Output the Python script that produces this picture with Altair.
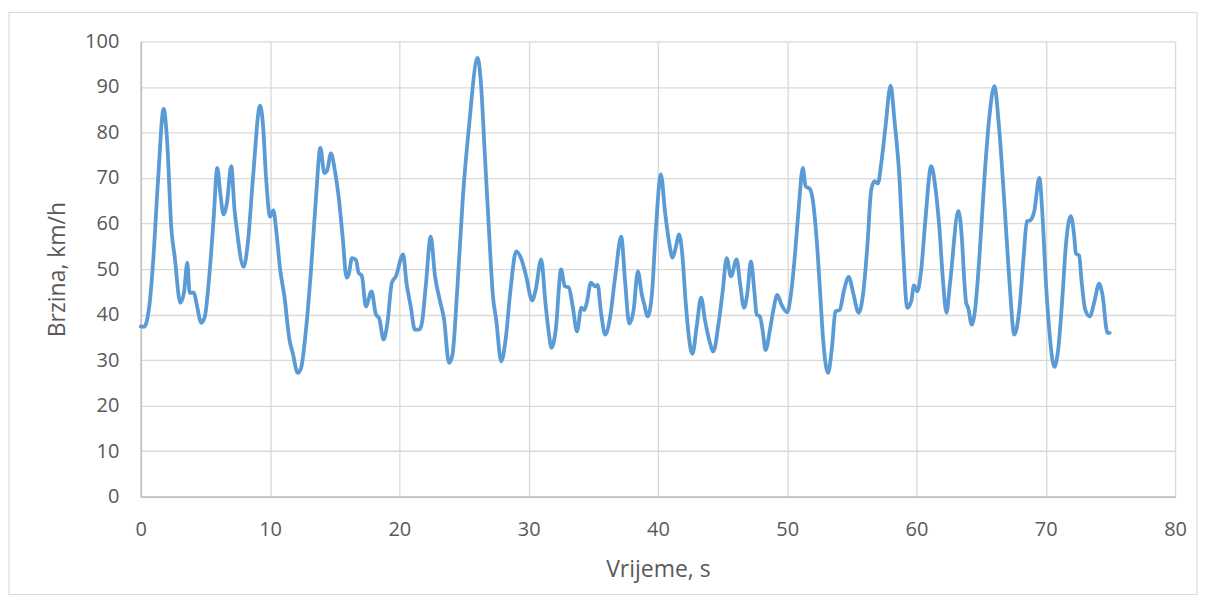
import altair as alt
import pandas as pd

# Time (s) and speed (km/h)
time_s = [
    0.0, 0.25, 0.69, 0.95, 1.34, 1.77, 2.03, 2.37, 2.62, 3.06, 3.34, 3.6, 3.78, 4.11, 4.3,
    4.68, 4.94, 5.32, 5.63, 5.92, 6.15, 6.4, 6.66, 7.0, 7.25, 7.43, 7.95, 8.28, 8.67, 9.23,
    9.44, 9.7, 10.0, 10.26, 10.47, 10.78, 11.11, 11.5, 11.75, 12.14, 12.4, 12.78, 13.17, 13.56,
    13.89, 14.2, 14.4, 14.71, 15.02, 15.3, 15.61, 15.92, 16.1, 16.33, 16.64, 16.85, 17.1,
    17.41, 17.85, 18.19, 18.44, 18.78, 19.08, 19.42, 19.73, 20.29, 20.55, 20.88, 21.2, 21.53,
    21.75, 22.04, 22.43, 22.76, 23.12, 23.46, 23.84, 24.1, 24.48, 24.92, 25.39, 26.06, 26.29,
    26.62, 26.93, 27.24, 27.49, 27.88, 28.22, 28.6, 29.04, 29.45, 29.81, 30.27, 30.55, 30.97,
    31.3, 31.56, 31.77, 32.1, 32.51, 32.8, 33.1, 33.41, 33.74, 34.08, 34.3, 34.5, 34.82, 35.15,
    35.34, 35.6, 35.93, 36.27, 36.7, 37.16, 37.47, 37.78, 38.12, 38.45, 38.76, 38.94, 39.2,
    39.53, 39.84, 40.23, 40.56, 40.87, 41.13, 41.4, 41.64, 41.9, 42.15, 42.67, 43.0, 43.34,
    43.65, 43.96, 44.29, 44.68, 45.01, 45.32, 45.65, 46.09, 46.35, 46.66, 46.9, 47.2, 47.46,
    47.64, 47.89, 48.1, 48.33, 48.67, 48.93, 49.23, 49.56, 50.0, 50.28, 50.59, 50.9, 51.21,
    51.42, 51.75, 51.93, 52.26, 52.52, 52.78, 53.16, 53.47, 53.73, 54.06, 54.4, 54.76, 55.1,
    55.53, 55.86, 56.2, 56.5, 56.76, 57.02, 57.28, 57.59, 58.0, 58.3, 58.69, 58.95, 59.29,
    59.6, 59.8, 60.06, 60.37, 60.67, 61.14, 61.45, 61.78, 62.05, 62.32, 62.6, 63.25, 63.5,
    63.71, 63.84, 64.0, 64.27, 64.53, 64.87, 65.25, 65.64, 66.02, 66.4, 66.8, 67.18, 67.57,
    67.95, 68.29, 68.54, 68.8, 69.11, 69.5, 69.75, 70.0, 70.27, 70.66, 70.96, 71.3, 71.55,
    71.94, 72.2, 72.33, 72.58, 72.76, 73.05, 73.41, 73.74, 74.13, 74.39, 74.77, 74.95,
]
speed_kmh = [
    37.4, 37.3, 42.6, 51.4, 69.7, 85.2, 78.5, 58.7, 52.8, 42.6, 44.8, 51.4, 44.8, 44.8, 42.6,
    38.2, 39.4, 49.2, 60.9, 72.2, 66.7, 62.0, 64.5, 72.6, 63.1, 58.7, 50.5, 55.7, 69.7, 85.9,
    82.1, 69.7, 61.5, 62.9, 58.7, 49.9, 44.0, 34.5, 31.6, 27.2, 28.3, 36.7, 49.9, 66.0,
    76.6, 71.1, 71.5, 75.4, 71.5, 66.0, 57.2, 48.1, 49.0, 52.4, 52.0, 49.2, 48.5,
    41.8, 45.1, 40.0, 39.2, 34.5, 38.2, 47.0, 48.4, 53.2, 47.0, 41.8, 36.7, 36.7,
    38.2, 46.2, 57.1, 48.4, 43.3, 38.9, 29.4, 31.0, 45.5, 66.0, 81.4, 96.4, 91.6,
    74.8, 58.7, 44.0, 38.9, 29.7, 34.5, 45.5, 53.9, 52.1, 48.4, 43.1, 45.5, 52.1,
    42.6, 36.0, 32.7, 36.7, 49.9, 46.2, 46.0, 41.8, 36.3, 41.5, 41.0, 42.6, 47.0, 46.2,
    46.5, 40.4, 35.6, 38.9, 48.4, 57.1, 47.0, 38.0, 41.0, 49.5, 44.3, 42.3, 39.6,
    44.3, 58.7, 70.8, 62.3, 55.8, 52.5, 55.0, 57.6, 52.8, 42.6, 31.4, 37.4, 43.7,
    38.6, 34.5, 31.9, 37.8, 45.1, 52.4, 48.4, 52.1, 47.0, 41.5, 44.3, 51.7, 45.1,
    40.0, 39.6, 36.5, 32.2, 36.7, 41.0, 44.3, 42.2, 40.5, 44.3, 52.8, 63.7, 72.2,
    68.2, 67.6, 66.0, 57.2, 46.2, 34.5, 27.2, 33.0, 40.7, 41.0, 45.4, 48.3, 44.8,
    40.4, 44.3, 55.0, 67.4, 69.3, 68.8, 73.3, 80.9, 90.3, 82.6, 69.7, 55.0, 41.5,
    43.0, 46.4, 45.1, 49.9, 60.1, 72.6, 68.2, 58.7, 47.5, 40.4, 47.0, 62.7, 57.2,
    47.0, 42.6, 41.5, 37.8, 41.0, 52.8, 69.7, 83.5, 90.2, 80.7, 64.5, 47.7, 35.6,
    41.0, 52.8, 60.5, 60.7, 62.7, 70.0, 61.6, 47.7, 36.7, 28.5, 32.3, 44.3, 55.0,
    61.6, 57.2, 53.4, 53.0, 47.7, 41.1, 39.6, 42.6, 46.8, 44.3, 36.0, 36.0,
]

x_ticks = [0, 10, 20, 30, 40, 50, 60, 70, 80]
y_ticks = [0, 10, 20, 30, 40, 50, 60, 70, 80, 90, 100]

df = pd.DataFrame({"t": time_s, "v": speed_kmh})

FONT = "Open Sans"
TEXT = "#595959"

line = alt.Chart(df).mark_line(
    color="#5B9BD5", strokeWidth=3.8, interpolate="monotone", strokeCap="round", strokeJoin="round"
).encode(
    x=alt.X(
        "t:Q",
        scale=alt.Scale(domain=[0, 80], nice=False, zero=False),
        axis=alt.Axis(
            values=x_ticks, title="Vrijeme, s", ticks=False, tickSize=0,
            labelFlush=False, labelOverlap=False,
            labelPadding=39, labelBaseline="alphabetic", labelFontSize=20,
            titleFontSize=23, titleFontWeight="normal", titleBaseline="alphabetic",
            titleY=80, titlePadding=0,
            gridColor="#D9D9D9", gridWidth=1.3, domainColor="#BFBFBF", domainWidth=1.6,
            labelColor=TEXT, titleColor=TEXT, labelFont=FONT, titleFont=FONT,
        ),
    ),
    y=alt.Y(
        "v:Q",
        scale=alt.Scale(domain=[0, 100], nice=False),
        axis=alt.Axis(
            values=y_ticks, title="Brzina, km/h", ticks=False, tickSize=0,
            labelFlush=False, labelOverlap=False,
            labelPadding=22, labelFontSize=20, titleFontSize=23, titleFontWeight="normal",
            titleBaseline="alphabetic", titleX=-76, titleAngle=270,
            gridColor="#D9D9D9", gridWidth=1.3, domainColor="#BFBFBF", domainWidth=1.6,
            labelColor=TEXT, titleColor=TEXT, labelFont=FONT, titleFont=FONT,
        ),
    ),
)

border = alt.Chart(pd.DataFrame({"k": [0]})).mark_rect(
    fillOpacity=0, stroke="#D9D9D9", strokeWidth=1.2
).encode(
    x=alt.value(-132), x2=alt.value(1058), y=alt.value(-29), y2=alt.value(554)
)

chart = alt.layer(border, line).properties(
    width=1036,
    height=456,
    autosize=alt.AutoSizeParams(type="none"),
    padding={"left": 133, "top": 33, "right": 24, "bottom": 100},
    background="white",
).configure_view(stroke=None)

chart.save("out.html", embed_options={"renderer": "svg", "actions": False})
